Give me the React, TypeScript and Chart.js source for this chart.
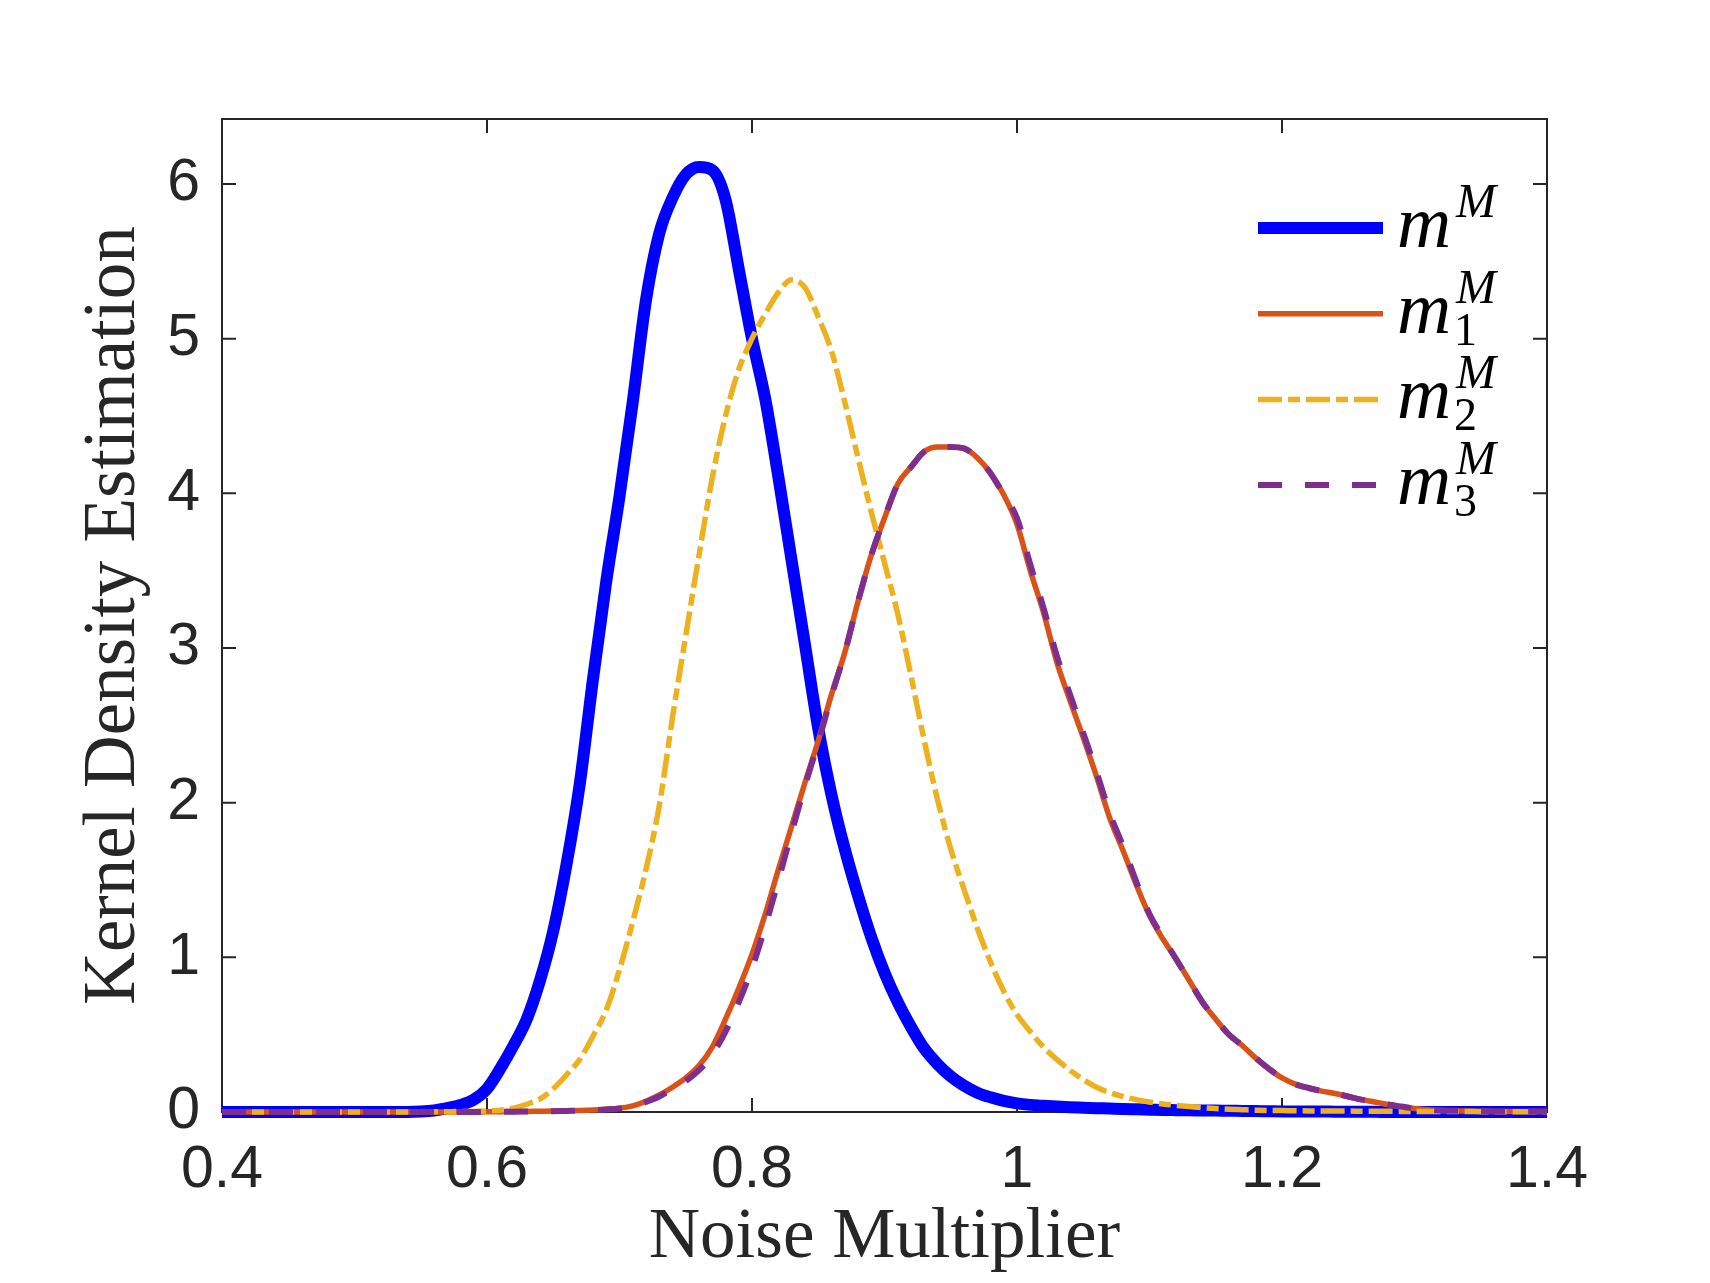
import { useEffect, useRef } from "react"
import { Chart, registerables } from "chart.js"

Chart.register(...registerables)

// x grid of the kernel density estimates
const noise = [
  0.4, 0.41, 0.42, 0.43, 0.44, 0.45, 0.46, 0.47, 0.48, 0.49,
  0.5, 0.51, 0.52, 0.53, 0.54, 0.55, 0.56, 0.57, 0.58, 0.59,
  0.6, 0.61, 0.62, 0.63, 0.64, 0.65, 0.66, 0.67, 0.68, 0.69,
  0.7, 0.71, 0.72, 0.73, 0.74, 0.75, 0.76, 0.77, 0.78, 0.79,
  0.8, 0.81, 0.82, 0.83, 0.84, 0.85, 0.86, 0.87, 0.88, 0.89,
  0.9, 0.91, 0.92, 0.93, 0.94, 0.95, 0.96, 0.97, 0.98, 0.99,
  1.0, 1.01, 1.02, 1.03, 1.04, 1.05, 1.06, 1.07, 1.08, 1.09,
  1.1, 1.11, 1.12, 1.13, 1.14, 1.15, 1.16, 1.17, 1.18, 1.19,
  1.2, 1.21, 1.22, 1.23, 1.24, 1.25, 1.26, 1.27, 1.28, 1.29,
  1.3, 1.31, 1.32, 1.33, 1.34, 1.35, 1.36, 1.37, 1.38, 1.39, 1.4,
]

// m^M
const mM = [
  0, 0, 0, 0, 0, 0, 0, 0, 0, 0,
  0, 0, 0, 0, 0, 0.003, 0.01, 0.025, 0.045, 0.08,
  0.15, 0.28, 0.43, 0.6, 0.85, 1.17, 1.6, 2.12, 2.8, 3.43,
  3.98, 4.59, 5.25, 5.68, 5.91, 6.06, 6.11, 6.09, 5.9, 5.45,
  5.0, 4.61, 4.1, 3.56, 3.02, 2.48, 2.05, 1.7, 1.4, 1.13,
  0.9, 0.71, 0.55, 0.41, 0.31, 0.23, 0.17, 0.125, 0.095, 0.072,
  0.056, 0.046, 0.04, 0.035, 0.031, 0.028, 0.025, 0.022, 0.019, 0.017,
  0.015, 0.013, 0.012, 0.011, 0.01, 0.009, 0.008, 0.007, 0.006, 0.005,
  0.004, 0.004, 0.003, 0.003, 0.002, 0.002, 0.001, 0.001, 0, 0,
  0, 0, 0, 0, 0, 0, 0, 0, 0, 0, 0,
]

// m_1^M
const m1 = [
  0, 0, 0, 0, 0, 0, 0, 0, 0, 0,
  0, 0, 0, 0, 0, 0, 0, 0, 0, 0,
  0.001, 0.002, 0.003, 0.004, 0.005, 0.006, 0.008, 0.01, 0.013, 0.018,
  0.025, 0.04, 0.07, 0.11, 0.16, 0.22, 0.3, 0.42, 0.6, 0.8,
  1.02, 1.28, 1.57, 1.85, 2.13, 2.4, 2.7, 2.97, 3.3, 3.6,
  3.84, 4.06, 4.17, 4.27, 4.3, 4.3, 4.29, 4.23, 4.13, 3.99,
  3.8, 3.5, 3.23, 2.91, 2.66, 2.42, 2.17, 1.9, 1.69, 1.47,
  1.27, 1.12, 0.99, 0.85, 0.71, 0.6, 0.5, 0.43, 0.35, 0.28,
  0.22, 0.18, 0.155, 0.135, 0.12, 0.1, 0.08, 0.065, 0.048, 0.035,
  0.022, 0.014, 0.01, 0.008, 0.006, 0.005, 0.004, 0.004, 0.003, 0.003, 0.003,
]

// m_2^M
const m2 = [
  0, 0, 0, 0, 0, 0, 0, 0, 0, 0,
  0, 0, 0, 0, 0, 0.001, 0.001, 0.002, 0.003, 0.004,
  0.006, 0.012, 0.025, 0.05, 0.085, 0.15, 0.24, 0.34, 0.49, 0.66,
  0.92, 1.23, 1.57, 1.98, 2.55, 3.08, 3.6, 4.1, 4.5, 4.8,
  5.0, 5.16, 5.3, 5.38, 5.33, 5.14, 4.92, 4.59, 4.23, 3.88,
  3.55, 3.22, 2.82, 2.4, 2.02, 1.7, 1.44, 1.19, 0.97, 0.78,
  0.63, 0.52, 0.42, 0.34, 0.27, 0.21, 0.16, 0.125, 0.1, 0.08,
  0.065, 0.052, 0.043, 0.035, 0.028, 0.022, 0.018, 0.015, 0.012, 0.01,
  0.009, 0.008, 0.007, 0.007, 0.006, 0.006, 0.005, 0.005, 0.005, 0.004,
  0.004, 0.004, 0.003, 0.003, 0.003, 0.002, 0.002, 0.002, 0.002, 0.001, 0.001,
]

// m_3^M
const m3 = [
  0, 0, 0, 0, 0, 0, 0, 0, 0, 0,
  0, 0, 0, 0, 0, 0, 0, 0, 0, 0,
  0.001, 0.001, 0.002, 0.003, 0.004, 0.005, 0.007, 0.009, 0.012, 0.016,
  0.022, 0.037, 0.065, 0.1, 0.15, 0.2, 0.27, 0.37, 0.52, 0.71,
  0.93, 1.2, 1.5, 1.81, 2.11, 2.39, 2.69, 2.97, 3.3, 3.6,
  3.84, 4.06, 4.17, 4.27, 4.3, 4.3, 4.29, 4.23, 4.13, 3.99,
  3.84, 3.54, 3.26, 2.95, 2.7, 2.45, 2.2, 1.93, 1.72, 1.49,
  1.28, 1.13, 0.99, 0.85, 0.71, 0.6, 0.5, 0.43, 0.35, 0.28,
  0.22, 0.18, 0.155, 0.135, 0.12, 0.1, 0.08, 0.065, 0.048, 0.035,
  0.022, 0.014, 0.01, 0.008, 0.006, 0.005, 0.004, 0.004, 0.003, 0.003, 0.003,
]

const xTicks = [0.4, 0.6, 0.8, 1, 1.2, 1.4]
const xTickLabels = ["0.4", "0.6", "0.8", "1", "1.2", "1.4"]
const yTicks = [0, 1, 2, 3, 4, 5, 6]
const yTickLabels = ["0", "1", "2", "3", "4", "5", "6"]

const legendSubscripts = ["", "1", "2", "3"]

const COLORS = ["#0000FF", "#D95319", "#EDB120", "#7E2F8E"]
const WIDTHS = [12, 5.5, 5.5, 6]
const DASHES = [[], [], [24, 6, 12, 6], [24, 23]]

const AXIS_COLOR = "#262626"
const SANS = "'Liberation Sans', Arial, Helvetica, sans-serif"
const SERIF = "'Liberation Serif', 'Times New Roman', serif"

const toPoints = (ys: number[]) => noise.map((x, i) => ({ x, y: ys[i] }))

const boxPlugin = {
  id: "matlabBox",
  beforeDatasetsDraw(chart: Chart) {
    const { ctx, chartArea } = chart
    const { left, right, top, bottom } = chartArea
    const xs = chart.scales.x
    const ys = chart.scales.y
    const tick = 14
    ctx.save()
    ctx.strokeStyle = AXIS_COLOR
    ctx.lineWidth = 2
    ctx.strokeRect(left, top, right - left, bottom - top)
    ctx.beginPath()
    xTicks.forEach((v) => {
      const px = xs.getPixelForValue(v)
      ctx.moveTo(px, bottom)
      ctx.lineTo(px, bottom - tick)
      ctx.moveTo(px, top)
      ctx.lineTo(px, top + tick)
    })
    yTicks.forEach((v) => {
      const py = ys.getPixelForValue(v)
      ctx.moveTo(left, py)
      ctx.lineTo(left + tick, py)
      ctx.moveTo(right, py)
      ctx.lineTo(right - tick, py)
    })
    ctx.stroke()
    ctx.restore()
  },
  afterDraw(chart: Chart) {
    const { ctx, chartArea } = chart
    const { right, top } = chartArea
    const lineStart = right - 289
    const lineEnd = right - 164
    const textX = right - 150
    const scriptX = right - 93
    ctx.save()
    legendSubscripts.forEach((sub, i) => {
      const cy = top + 109 + i * 85.7
      ctx.beginPath()
      ctx.strokeStyle = COLORS[i]
      ctx.lineWidth = WIDTHS[i]
      ctx.lineCap = "butt"
      ctx.setLineDash(DASHES[i])
      ctx.moveTo(lineStart, cy)
      ctx.lineTo(lineEnd, cy)
      ctx.stroke()
      ctx.setLineDash([])

      ctx.fillStyle = "#000"
      ctx.textAlign = "left"
      ctx.textBaseline = "alphabetic"
      ctx.font = `italic 75px ${SERIF}`
      ctx.fillText("m", textX, cy + 19)
      ctx.font = `italic 48px ${SERIF}`
      ctx.fillText("M", scriptX + 2, cy - 11)
      if (sub) {
        ctx.font = `46px ${SERIF}`
        ctx.fillText(sub, scriptX, cy + 31)
      }
    })
    ctx.restore()
  },
}

export default function App() {
  const chartRef = useRef<HTMLCanvasElement>(null)
  const chartInstance = useRef<Chart | null>(null)

  useEffect(() => {
    if (!chartRef.current) return
    if (chartInstance.current) chartInstance.current.destroy()

    const seriesList = [mM, m1, m2, m3]
    const names = ["m^M", "m_1^M", "m_2^M", "m_3^M"]

    chartInstance.current = new Chart(chartRef.current, {
      type: "line",
      data: {
        datasets: seriesList.map((ys, i) => ({
          label: names[i],
          data: toPoints(ys),
          borderColor: COLORS[i],
          backgroundColor: COLORS[i],
          borderWidth: WIDTHS[i],
          borderDash: DASHES[i],
          borderJoinStyle: "round" as const,
          pointRadius: 0,
          cubicInterpolationMode: "monotone" as const,
          fill: false,
          order: 4 - i,
          clip: { left: 0, top: 0, right: 0, bottom: 8 },
        })),
      },
      options: {
        animation: false,
        responsive: false,
        layout: { padding: { top: 119, right: 163, left: 0, bottom: 0 } },
        plugins: {
          legend: { display: false },
          tooltip: { enabled: false },
        },
        scales: {
          x: {
            type: "linear",
            min: 0.4,
            max: 1.4,
            afterBuildTicks: (scale) => {
              scale.ticks = xTicks.map((value) => ({ value }))
            },
            afterFit: (scale) => {
              scale.height = 171
            },
            grid: { display: false, drawTicks: false },
            border: { display: false },
            ticks: {
              padding: 23,
              color: AXIS_COLOR,
              font: { family: SANS, size: 59 },
              maxRotation: 0,
              callback: (_v, i) => xTickLabels[i],
            },
            title: {
              display: true,
              text: "Noise Multiplier",
              color: AXIS_COLOR,
              font: { family: SERIF, size: 71 },
              padding: { top: 0, bottom: 2 },
            },
          },
          y: {
            type: "linear",
            min: 0,
            max: 6.42,
            afterBuildTicks: (scale) => {
              scale.ticks = yTicks.map((value) => ({ value }))
            },
            afterFit: (scale) => {
              scale.width = 222
            },
            grid: { display: false, drawTicks: false },
            border: { display: false },
            ticks: {
              padding: 22,
              color: AXIS_COLOR,
              font: { family: SANS, size: 59 },
              callback: (_v, i) => yTickLabels[i],
            },
            title: {
              display: true,
              text: "Kernel Density Estimation",
              color: AXIS_COLOR,
              font: { family: SERIF, size: 73 },
              padding: { top: 71, bottom: 0 },
            },
          },
        },
      },
      plugins: [boxPlugin],
    })

    return () => {
      if (chartInstance.current) {
        chartInstance.current.destroy()
        chartInstance.current = null
      }
    }
  }, [])

  return (
    <div style={{ position: "absolute", left: 0, top: 0, width: 1710, height: 1283, background: "#fff" }}>
      <canvas ref={chartRef} width={1710} height={1283} />
    </div>
  )
}
